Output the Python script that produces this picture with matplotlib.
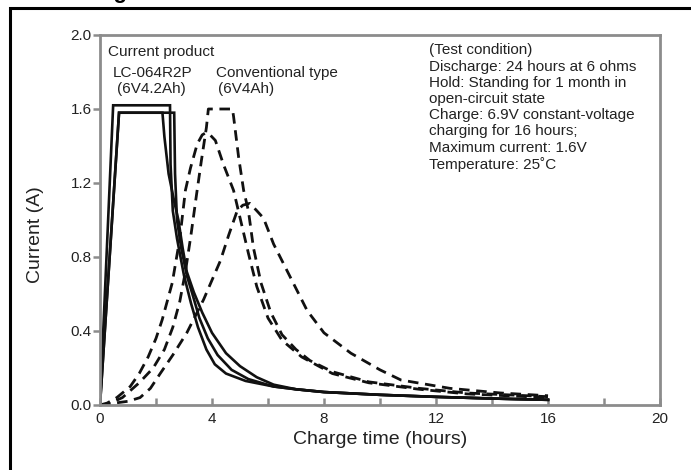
import matplotlib.pyplot as plt
from matplotlib.patches import Rectangle
from matplotlib.ticker import MultipleLocator

plt.rcParams['font.family'] = ['Liberation Sans', 'DejaVu Sans']

# -------------------------------------------------
# Data (hours, amps)
# -------------------------------------------------
tail_t = [7.0, 8.0, 10.0, 12.0, 14.0, 16.0]
tail_i = [0.085, 0.07, 0.055, 0.044, 0.035, 0.028]

# current product LC-064R2P (solid lines)
cur_a_t = [0, 0.47, 2.5, 2.52, 2.6, 2.75, 3.0, 3.25, 3.5, 3.8, 4.1, 4.5, 5.2, 6.2] + tail_t
cur_a_i = [0, 1.62, 1.62, 1.3, 1.05, 0.9, 0.7, 0.55, 0.42, 0.3, 0.22, 0.17, 0.13, 0.10] + tail_i

cur_b_t = [0, 0.68, 2.65, 2.68, 2.75, 2.9, 3.1, 3.3, 3.55, 3.85, 4.2, 4.7, 5.3, 6.2] + tail_t
cur_b_i = [0, 1.58, 1.58, 1.25, 1.0, 0.85, 0.7, 0.6, 0.47, 0.36, 0.27, 0.19, 0.14, 0.10] + tail_i

cur_c_t = [0, 0.68, 2.23, 2.3, 2.45, 2.65, 2.8, 2.95, 3.1, 3.35, 3.65, 4.0, 4.5, 5.0, 5.6, 6.2] + tail_t
cur_c_i = [0, 1.58, 1.58, 1.45, 1.25, 1.1, 1.0, 0.85, 0.72, 0.61, 0.5, 0.39, 0.28, 0.21, 0.15, 0.11] + tail_i

# conventional type 6V4Ah (dashed lines)
conv_q_t = [0, 0.25, 0.6, 1.08, 1.4, 1.72, 2.0, 2.22, 2.58, 2.85, 3.05, 3.23, 3.47, 3.65, 3.76,
            3.9, 4.12, 4.41, 4.77, 5.02, 5.3, 5.6, 6.0, 6.5, 7.2, 8.3, 9.6, 11.4, 13.1, 16]
conv_q_i = [0, 0.01, 0.04, 0.10, 0.17, 0.26, 0.36, 0.46, 0.66, 0.9, 1.16, 1.28, 1.41, 1.46, 1.47,
            1.465, 1.43, 1.30, 1.16, 1.0, 0.82, 0.64, 0.47, 0.35, 0.26, 0.17, 0.12, 0.085, 0.06, 0.04]

conv_p_t = [0, 0.3, 0.8, 1.4, 1.9, 2.3, 2.6, 2.85, 3.05, 3.25, 3.45, 3.62, 3.8, 3.87, 4.73,
            4.77, 4.95, 5.13, 5.3, 5.48, 5.75, 6.1, 6.5, 7.0, 7.5, 8.3, 9.6, 11.4, 13.1, 16]
conv_p_i = [0, 0.005, 0.04, 0.12, 0.2, 0.3, 0.42, 0.56, 0.72, 0.92, 1.14, 1.32, 1.5, 1.6, 1.6,
            1.56, 1.34, 1.16, 1.05, 0.85, 0.66, 0.5, 0.38, 0.3, 0.24, 0.18, 0.125, 0.09, 0.065, 0.045]

conv_r_t = [0, 0.25, 1.0, 1.43, 1.8, 2.15, 2.6, 3.1, 3.7, 4.3, 4.6, 4.9, 5.1, 5.35, 5.6, 5.84,
            6.2, 6.8, 7.4, 8.0, 8.96, 10.0, 10.75, 12.5, 14.3, 16]
conv_r_i = [0, 0.005, 0.02, 0.04, 0.09, 0.17, 0.27, 0.39, 0.57, 0.78, 0.92, 1.05, 1.08, 1.09,
            1.05, 1.01, 0.87, 0.69, 0.51, 0.39, 0.28, 0.19, 0.135, 0.09, 0.065, 0.05]

x_ticks = [0, 4, 8, 12, 16, 20]
y_ticks = [0.0, 0.4, 0.8, 1.2, 1.6, 2.0]

test_lines = [
    "(Test condition)",
    "Discharge: 24 hours at 6 ohms",
    "Hold: Standing for 1 month in",
    "open-circuit state",
    "Charge: 6.9V constant-voltage",
    "charging for 16 hours;",
    "Maximum current: 1.6V",
    "Temperature: 25\u02daC",
]

# -------------------------------------------------
# Figure
# -------------------------------------------------
W, H = 691, 470
fig = plt.figure(figsize=(W / 100, H / 100), dpi=100)
ax = fig.add_axes([100 / W, (H - 405) / H, (660 - 100) / W, (405 - 35) / H])

# outer black frame (runs off the right and bottom edge)
fig.patches.append(Rectangle((10 / W, -0.1), 1.2, 1 - 8 / H + 0.1,
                             transform=fig.transFigure, fill=False,
                             edgecolor="black", linewidth=2.2))

# cut-off title above the frame (only a descender shows)
fig.text(63 / W, 1 + 1.5 / H, "Charge characteristics", fontsize=16,
         fontweight="bold", va="baseline", ha="left", color="black")

solid = dict(color="#111111", linewidth=1.9, solid_joinstyle="miter")
dashed = dict(color="#111111", linewidth=2.0, linestyle=(0, (3.8, 2.4)))

ax.plot(cur_c_t, cur_c_i, **solid)
ax.plot(cur_b_t, cur_b_i, **solid)
ax.plot(cur_a_t, cur_a_i, **solid)
ax.plot(conv_q_t, conv_q_i, **dashed)
ax.plot(conv_p_t, conv_p_i, **dashed)
ax.plot(conv_r_t, conv_r_i, **dashed)

ax.set_xlim(0, 20)
ax.set_ylim(0, 2.0)

grey = "#8c8c8c"
for sp in ax.spines.values():
    sp.set_color(grey)
    sp.set_linewidth(2.0)

ax.set_xticks(x_ticks)
ax.xaxis.set_minor_locator(MultipleLocator(2))
ax.set_yticks(y_ticks)
ax.set_yticklabels([f"{v:.1f}" for v in y_ticks])
ax.tick_params(axis="x", which="both", direction="in", length=5, width=1.8,
               color=grey, labelsize=11, labelcolor="#222222", pad=5)
ax.tick_params(axis="y", direction="out", length=5, width=1.8,
               color=grey, labelsize=11, labelcolor="#222222", pad=1)

ax.set_xlabel("Charge time (hours)", fontsize=14, color="#222222", labelpad=4)
ax.set_ylabel("Current (A)", fontsize=14, color="#222222")
ax.yaxis.set_label_coords(-0.1, 0.46)

# annotations
txt = dict(fontsize=11, color="#222222", va="center")
ax.text(0.3, 1.91, "Current product", **txt)
ax.text(0.45, 1.795, "LC-064R2P", **txt)
ax.text(0.6, 1.71, "(6V4.2Ah)", **txt)
ax.text(4.15, 1.795, "Conventional type", **txt)
ax.text(4.2, 1.71, "(6V4Ah)", **txt)

ax.text(11.75, 1.955, "\n".join(test_lines), fontsize=11, color="#222222",
        va="top", ha="left", linespacing=1.2)

fig.savefig("out.png", dpi=100)
